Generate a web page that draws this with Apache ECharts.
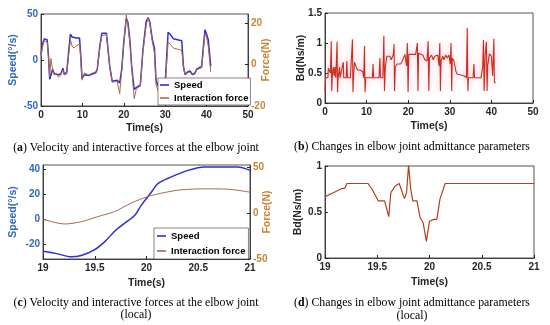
<!DOCTYPE html>
<html>
<head>
<meta charset="utf-8">
<script src="https://cdn.jsdelivr.net/npm/echarts@6/dist/echarts.min.js"></script>
<style>html,body{margin:0;padding:0;background:#fff;}#c{width:550px;height:325px;}</style>
</head>
<body>
<div id="c"></div>
<script>
// ---------- Data ----------
// (a) full trial: time (s), speed (deg/s)
const speedA = [[0,6],[0.4,18],[0.8,23],[1.5,22],[1.8,5],[2.1,-21],[2.5,-15],[2.8,-10],[3.2,-15],[3.6,-14],[4.2,-16],[4.8,-15],[5.3,-9],[5.6,-15],[6.2,-14],[6.7,10],[7.1,28],[7.5,25],[8.5,24],[9.3,24],[9.6,5],[9.9,-20],[10.5,-16],[11.5,-17],[12.5,-15],[13.2,-14],[13.6,-10],[14.2,15],[14.7,29],[15.8,29],[16.6,-7],[17.2,-23],[18.4,-22],[19,-25],[19.5,-10],[20,20],[20.6,45],[21,41],[21.5,20],[21.9,-7],[22.5,-32],[23,-30],[23.4,-29],[24,-27],[24.6,10],[25.4,42],[25.9,46],[26.3,41],[26.9,22],[27.4,13],[27.8,-23],[28.3,-28],[29,-27],[30,-25],[30.7,30],[31.2,28],[32,23],[33,22],[34,21],[34.4,-7],[34.8,-16],[35.4,-13],[36,-12],[36.6,-16],[37.2,-14],[37.6,-10],[38,-11],[38.8,-7],[39.6,33],[40,28],[40.4,22],[41,-7]];
// (a) interaction force (N)
const forceA = [[0,4],[0.4,9],[0.8,11.5],[1.5,11],[1.8,4],[2.1,-6],[2.4,3],[2.7,-1],[3.2,-5],[3.6,-4],[4.2,-6],[4.8,-5],[5.3,-2.5],[5.6,-5],[6.2,-4.5],[6.7,5],[7.1,12],[7.5,9],[8,8],[8.5,9],[9.3,10],[9.6,3],[9.9,-7.5],[10.5,-4],[11.5,-5],[12.5,-4],[13.2,-3.5],[13.6,-2],[14.2,8],[14.7,14],[15.8,14.5],[16.6,-1],[17.2,-8.5],[18.4,-8],[19,-14],[19.5,-3],[20,10],[20.6,24],[21,19],[21.5,10],[21.9,-1],[22.5,-16.5],[23,-12],[23.4,-11],[24,-10.5],[24.6,6],[25.4,19],[25.9,23],[26.3,19.5],[26.9,11],[27.4,6],[27.8,-10],[28.3,-12.5],[29,-11],[30,-10],[30.7,11],[31.2,10],[32,8],[33,7.5],[34,7],[34.4,-1],[34.8,-5],[35.4,-4],[36,-3.5],[36.6,-5],[37.2,-4.5],[37.6,-2.5],[38,-3],[38.8,-1.5],[39.6,15],[40,13],[40.4,9],[41,-3.5]];
// (b) admittance parameter Bd (Ns/m)
const bdB = [[0,0.2],[0.15,0.42],[0.7,0.42],[0.8,0.58],[1.2,0.58],[1.3,0.5],[1.5,1.03],[1.62,0.2],[1.75,0.45],[2.0,0.6],[2.2,0.45],[2.4,0.6],[2.6,0.42],[2.9,1.02],[3.02,0.18],[3.15,0.42],[3.5,0.6],[3.6,0.42],[4.0,0.42],[4.4,0.68],[4.5,0.42],[5.1,0.42],[5.25,0.7],[5.4,0.42],[6.1,0.42],[6.3,0.45],[6.6,1.06],[6.72,0.18],[6.9,0.5],[7.1,0.68],[7.4,0.62],[7.8,0.55],[8.4,0.55],[8.8,0.58],[9.1,0.52],[9.3,0.42],[9.5,0.95],[9.62,0.18],[9.8,0.42],[11.4,0.42],[11.55,0.65],[11.7,0.42],[13.0,0.42],[13.2,0.75],[13.35,0.42],[13.9,0.42],[14.15,1.12],[14.3,0.2],[14.5,0.6],[14.9,0.78],[15.6,0.78],[15.9,0.72],[16.4,0.8],[16.6,0.98],[16.72,0.2],[16.9,0.6],[17.3,0.65],[18.2,0.65],[18.6,0.7],[19.0,0.72],[19.2,0.81],[19.4,0.81],[19.6,0.62],[19.8,1.0],[19.97,0.18],[20.15,0.81],[21.8,0.81],[22.0,0.82],[22.2,1.0],[22.35,0.2],[22.5,0.83],[23.5,0.8],[24.0,0.72],[24.5,0.7],[24.8,1.03],[24.95,0.2],[25.1,0.75],[25.6,0.8],[26,0.72],[26.4,0.78],[26.8,0.75],[27.1,0.8],[27.4,0.62],[27.6,1.0],[27.75,0.2],[27.9,0.7],[28.3,0.78],[28.6,0.72],[29,0.8],[29.4,0.75],[29.8,0.8],[30.1,0.65],[30.3,1.0],[30.45,0.2],[30.6,0.75],[31.0,0.7],[31.5,0.52],[31.8,0.48],[32.5,0.47],[33.5,0.45],[34.0,0.42],[34.2,1.25],[34.35,0.2],[34.5,0.42],[35.6,0.42],[35.8,0.65],[35.95,0.42],[37.5,0.42],[37.9,0.6],[38.1,1.05],[38.25,0.2],[38.5,0.8],[38.8,1.02],[38.95,0.2],[39.1,0.62],[39.5,0.82],[40.0,0.78],[40.3,0.45],[40.6,1.07],[40.72,0.35],[41.0,0.33]];
// (c) local window speed (deg/s)
const speedC = [[19,-25.8],[19.145,-27.9],[19.27,-30.3],[19.37,-29.2],[19.5,-24.5],[19.6,-17.9],[19.69,-10],[19.79,-3.4],[19.89,3.2],[19.95,11],[20.05,21.6],[20.11,28.2],[20.24,33.5],[20.4,38.7],[20.56,41.4],[20.88,41.4],[21,38.7]];
// (c) local window force (N)
const forceC = [[19,-6.8],[19.21,-12],[19.37,-9.5],[19.53,-4],[19.69,1.4],[19.85,10.5],[20.01,17.7],[20.17,22],[20.33,25],[20.56,26.1],[20.78,25.8],[21,22.5]];
// (d) local window Bd (Ns/m)
const bdD = [[19,0.667],[19.08,0.71],[19.16,0.755],[19.19,0.76],[19.21,0.81],[19.41,0.81],[19.45,0.75],[19.51,0.62],[19.57,0.62],[19.61,0.45],[19.63,0.71],[19.67,0.78],[19.71,0.81],[19.76,0.645],[19.78,0.71],[19.8,1.01],[19.82,0.75],[19.84,0.62],[19.88,0.62],[19.91,0.44],[19.94,0.38],[19.97,0.18],[20.0,0.4],[20.04,0.42],[20.07,0.42],[20.1,0.64],[20.15,0.81],[21,0.81]];
// tick values
const ticksA_right = [-20,0,20];
const ticksC_left = [-20,0,20,40];
const ticksC_right = [-50,0,50];

// ---------- Styles ----------
const BLUE_LINE = '#2f2fd2';
const FORCE_LINE = '#a8694a';
const BD_LINE = '#c8301c';
const BLUE_TXT = '#3069bf';
const ORANGE_TXT = '#c98334';
const DARK = '#262626';
const SANS = '"Liberation Sans", Arial, sans-serif';
const SERIF = '"Liberation Serif", "Times New Roman", serif';
const CAP = 11.8;

function xAx(gi, min, max, interval, gap) {
  return {
    gridIndex: gi, type: 'value', min, max, interval,
    name: 'Time(s)', nameLocation: 'middle', nameGap: gap, nameMoveOverlap: false,
    nameTextStyle: {fontFamily: SANS, fontWeight: 'bold', fontSize: 10.5, color: DARK},
    axisLine: {show: true, onZero: false, lineStyle: {color: DARK, width: 0.8}},
    axisTick: {show: true, inside: true, length: 3, lineStyle: {color: DARK}},
    axisLabel: {fontFamily: SANS, fontWeight: 'bold', fontSize: 10, color: DARK, margin: 4},
    splitLine: {show: false}
  };
}
function yAx(gi, opts) {
  const color = opts.color || DARK;
  const y = {
    gridIndex: gi, type: 'value', min: opts.min, max: opts.max, position: opts.position || 'left',
    name: opts.name, nameLocation: 'middle', nameGap: opts.nameGap, nameMoveOverlap: false,
    nameTextStyle: {fontFamily: SANS, fontWeight: 'bold', fontSize: 10.5, color},
    axisLine: {show: true, onZero: false, lineStyle: {color: DARK, width: 0.8}},
    axisTick: {show: true, inside: true, length: 3, lineStyle: {color: DARK}},
    axisLabel: {fontFamily: SANS, fontWeight: 'bold', fontSize: 10, color, margin: 3},
    splitLine: {show: false}
  };
  if (opts.interval !== undefined) y.interval = opts.interval;
  if (opts.ticks) {
    y.axisLabel.customValues = opts.ticks;
    y.axisTick.customValues = opts.ticks;
  }
  return y;
}
const legendBase = {
  orient: 'vertical', selectedMode: false, icon: 'rect', itemWidth: 9, itemHeight: 1.6,
  backgroundColor: '#fff', borderColor: '#333', borderWidth: 0.6, borderRadius: 0,
  textStyle: {fontFamily: SANS, fontWeight: 'bold', fontSize: 9.5, color: '#000', lineHeight: 12},
  data: ['Speed', 'Interaction force']
};
function cap(x, y, letter, rest) {
  return {type: 'text', x, y, style: {text: '({b|' + letter + '}) ' + rest, font: CAP + 'px ' + SERIF, fill: '#000', align: 'center', verticalAlign: 'middle', rich: {b: {fontWeight: 'bold', fontSize: CAP, fontFamily: SERIF}}}};
}
function plain(x, y, t) {
  return {type: 'text', x, y, style: {text: t, font: CAP + 'px ' + SERIF, fill: '#000', align: 'center', verticalAlign: 'middle'}};
}

const chart = echarts.init(document.getElementById('c'), null, {renderer: 'canvas'});
chart.setOption({
  animation: false,
  backgroundColor: '#fff',
  grid: [
    {left: 41, top: 14, width: 207, height: 92, show: true, borderColor: DARK, borderWidth: 0.8},
    {left: 325, top: 13, width: 208, height: 90, show: true, borderColor: DARK, borderWidth: 0.8},
    {left: 43, top: 165, width: 207, height: 94, show: true, borderColor: DARK, borderWidth: 0.8},
    {left: 325, top: 166, width: 209, height: 92, show: true, borderColor: DARK, borderWidth: 0.8}
  ],
  xAxis: [
    xAx(0, 0, 50, 10, 17),
    xAx(1, 0, 50, 10, 18),
    xAx(2, 19, 21, 0.5, 19),
    xAx(3, 19, 21, 0.5, 19)
  ],
  yAxis: [
    yAx(0, {min: -50, max: 50, interval: 50, name: 'Speed(°/s)', nameGap: 22, color: BLUE_TXT}),
    yAx(0, {min: -20, max: 24.5, position: 'right', ticks: ticksA_right, name: 'Force(N)', nameGap: 13, color: ORANGE_TXT}),
    yAx(1, {min: 0, max: 1.5, interval: 0.5, name: 'Bd(Ns/m)', nameGap: 18}),
    yAx(2, {min: -32, max: 43, ticks: ticksC_left, name: 'Speed(°/s)', nameGap: 24, color: BLUE_TXT}),
    yAx(2, {min: -50, max: 52, position: 'right', ticks: ticksC_right, name: 'Force(N)', nameGap: 12, color: ORANGE_TXT}),
    yAx(3, {min: 0, max: 1, interval: 0.5, name: 'Bd(Ns/m)', nameGap: 21})
  ],
  legend: [
    Object.assign({}, legendBase, {left: 158, top: 78, padding: [1, 2, 1, 2], itemGap: 1}),
    Object.assign({}, legendBase, {left: 154, top: 228, padding: [2, 3, 2, 3], itemGap: 3})
  ],
  series: [
    {name: 'Speed', type: 'line', xAxisIndex: 0, yAxisIndex: 0, data: speedA, showSymbol: false, color: BLUE_LINE, lineStyle: {width: 1.5, color: BLUE_LINE}},
    {name: 'Interaction force', type: 'line', xAxisIndex: 0, yAxisIndex: 1, data: forceA, showSymbol: false, color: FORCE_LINE, lineStyle: {width: 1, color: FORCE_LINE}},
    {name: 'Bd', type: 'line', xAxisIndex: 1, yAxisIndex: 2, data: bdB, showSymbol: false, color: BD_LINE, lineStyle: {width: 1.1, color: BD_LINE, shadowColor: 'rgba(255,60,150,0.35)', shadowBlur: 6}},
    {name: 'Speed', type: 'line', xAxisIndex: 2, yAxisIndex: 3, data: speedC, smooth: 0.3, showSymbol: false, color: BLUE_LINE, lineStyle: {width: 1.5, color: BLUE_LINE}},
    {name: 'Interaction force', type: 'line', xAxisIndex: 2, yAxisIndex: 4, data: forceC, smooth: 0.3, showSymbol: false, color: FORCE_LINE, lineStyle: {width: 1, color: FORCE_LINE}},
    {name: 'Bd local', type: 'line', xAxisIndex: 3, yAxisIndex: 5, data: bdD, showSymbol: false, color: '#b2401c', lineStyle: {width: 1.2, color: '#b2401c'}}
  ],
  graphic: [
    cap(136, 148, 'a', 'Velocity and interactive forces at the elbow joint'),
    cap(412, 147, 'b', 'Changes in elbow joint admittance parameters'),
    cap(136, 303, 'c', 'Velocity and interactive forces at the elbow joint'),
    plain(136, 315, '(local)'),
    cap(412, 303, 'd', 'Changes in elbow joint admittance parameters'),
    plain(412, 316, '(local)')
  ]
});
</script>
</body>
</html>
